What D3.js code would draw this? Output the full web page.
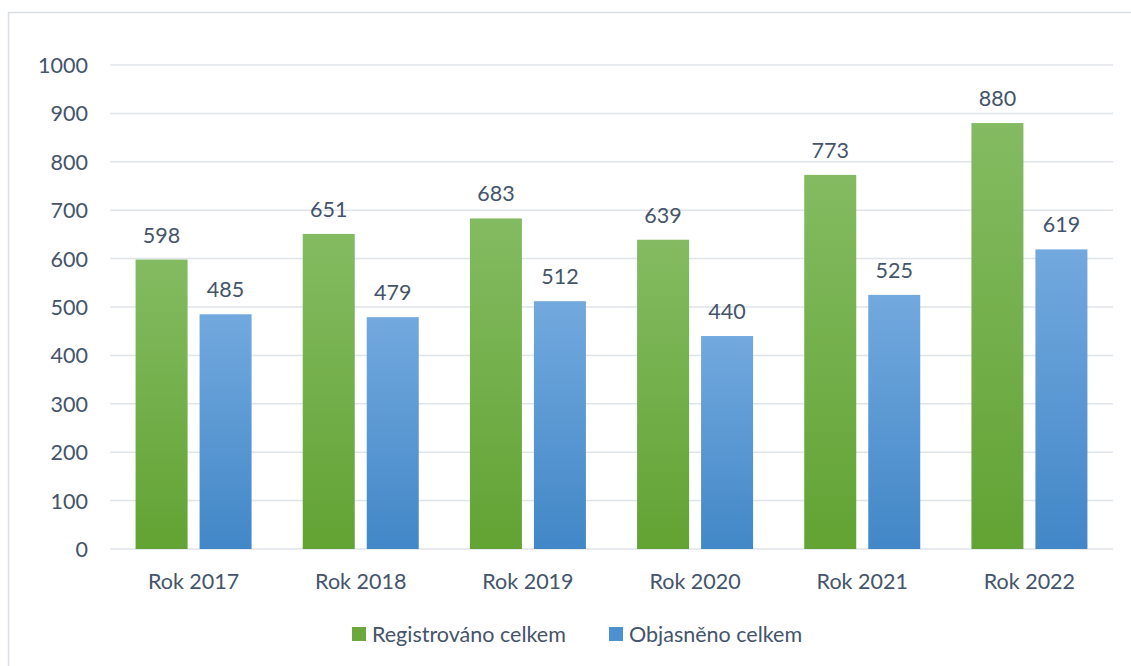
<!DOCTYPE html>
<html><head><meta charset="utf-8">
<script src="https://cdn.jsdelivr.net/npm/d3@7"></script>
<style>body{margin:0;background:#fff;} svg{display:block;font-family:Lato, "Open Sans", sans-serif;}</style>
</head><body><svg id="c" width="1131" height="666"></svg>
<script>
const categories = ["Rok 2017","Rok 2018","Rok 2019","Rok 2020","Rok 2021","Rok 2022"];
const seriesNames = ["Registrováno celkem","Objasněno celkem"];
const registrovano = [598,651,683,639,773,880];
const objasneno = [485,479,512,440,525,619];
const yTicks = [0,100,200,300,400,500,600,700,800,900,1000];

const svg = d3.select("#c");
const W=1131,H=666;
const m={l:110,r:1113,t:65,b:549};
const txt="#44546a";
const fs=21.5;

const defs=svg.append("defs");
const grads=[["gG","#84bb62","#62a333"],["gB","#72a9de","#4287c7"]];
grads.forEach(([id,a,b])=>{
  const g=defs.append("linearGradient").attr("id",id).attr("x1",0).attr("y1",0).attr("x2",0).attr("y2",1);
  g.append("stop").attr("offset","0%").attr("stop-color",a);
  g.append("stop").attr("offset","100%").attr("stop-color",b);
});

// frame
svg.append("path").attr("d",`M8.5,${H} L8.5,12.5 L${W},12.5`).attr("fill","none").attr("stroke","#d9dee6").attr("stroke-width",1.5);

const x=d3.scaleBand().domain(categories).range([m.l,m.r]).paddingInner(0).paddingOuter(0);
const y=d3.scaleLinear().domain([0,1000]).range([m.b,m.t]);

// grid
svg.append("g").selectAll("line").data(yTicks).join("line")
  .attr("x1",m.l).attr("x2",m.r).attr("y1",d=>y(d)).attr("y2",d=>y(d))
  .attr("stroke","#dfe3ea").attr("stroke-width",1.5);

// y axis labels
const yAxis=d3.axisLeft(y).tickValues(yTicks).tickSize(0).tickPadding(0).tickFormat(d3.format("d"));
const ya=svg.append("g").attr("transform",`translate(88,0)`).call(yAxis);
ya.select(".domain").remove();
ya.selectAll("text").attr("fill",txt).attr("font-size",fs).attr("font-family","Lato, sans-serif").attr("dy","0.35em");

// x axis labels
const xAxis=d3.axisBottom(x).tickSize(0).tickPadding(0);
const xa=svg.append("g").attr("transform",`translate(0,${m.b+32})`).call(xAxis);
xa.select(".domain").remove();
xa.selectAll("text").attr("fill",txt).attr("font-size",fs).attr("font-family","Lato, sans-serif").attr("dy","0.35em");

const bw=52, gap=12;
const series=[registrovano,objasneno];
const fills=["url(#gG)","url(#gB)"];
series.forEach((vals,si)=>{
  const g=svg.append("g");
  g.selectAll("rect").data(vals).join("rect")
    .attr("x",(d,i)=>x(categories[i])+x.bandwidth()/2+(si===0?-(bw+gap/2):gap/2))
    .attr("width",bw)
    .attr("y",d=>y(d)).attr("height",d=>y(0)-y(d))
    .attr("fill",fills[si]);
  g.selectAll("text").data(vals).join("text")
    .attr("x",(d,i)=>x(categories[i])+x.bandwidth()/2+(si===0?-(bw+gap/2):gap/2)+bw/2)
    .attr("y",d=>y(d)-17)
    .attr("text-anchor","middle").attr("fill",txt).attr("font-size",fs)
    .text(d=>d);
});

// legend
const leg=[{x:352,c:"#6aa93e"},{x:609,c:"#4d90d0"}];
leg.forEach((l,i)=>{
  svg.append("rect").attr("x",l.x).attr("y",627).attr("width",14).attr("height",14).attr("fill",l.c);
  svg.append("text").attr("x",l.x+20).attr("y",634).attr("dy","0.35em").attr("fill",txt).attr("font-size",fs).text(seriesNames[i]);
});
</script></body></html>
